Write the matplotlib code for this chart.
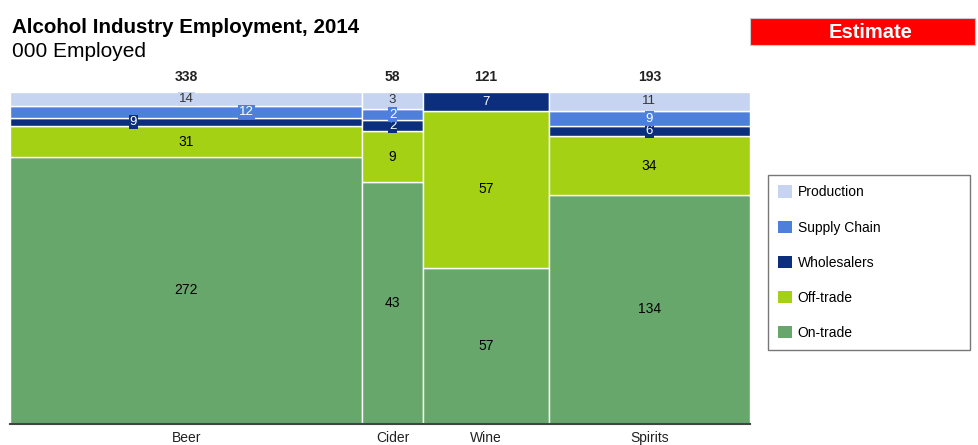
import matplotlib.pyplot as plt
from matplotlib.patches import Rectangle, Patch

plt.rcParams['font.family'] = ['Liberation Sans', 'DejaVu Sans']

# Data (000 employed)
categories = ['Beer', 'Cider', 'Wine', 'Spirits']
totals = [338, 58, 121, 193]
series = ['On-trade', 'Off-trade', 'Wholesalers', 'Supply Chain', 'Production']
on_trade = [272, 43, 57, 134]
off_trade = [31, 9, 57, 34]
wholesalers = [9, 2, 7, 6]
supply_chain = [12, 2, 0, 9]
production = [14, 3, 0, 11]

values = [on_trade, off_trade, wholesalers, supply_chain, production]
colors = ['#67a76b', '#a4d113', '#0b2f7c', '#4d7fdb', '#c7d4f1']
text_colors = ['black', 'black', 'white', 'white', '#333333']
boxed = [False, False, True, True, True]
# horizontal label position within the Beer column (fraction of width)
beer_pos = [0.5, 0.5, 0.35, 0.67, 0.5]

fig = plt.figure(figsize=(9.79, 4.45), dpi=100)
ax = fig.add_axes([10 / 979, 21 / 445, 740 / 979, 332 / 445])

grand = sum(totals)
x0 = 0
for i, cat in enumerate(categories):
    w = totals[i] / grand
    col_sum = sum(v[i] for v in values)
    y0 = 0
    for s in range(len(series)):
        h = values[s][i] / col_sum
        if h > 0:
            ax.add_patch(Rectangle((x0, y0), w, h, facecolor=colors[s],
                                   edgecolor='white', linewidth=1))
            fx = beer_pos[s] if i == 0 else 0.5
            bbox = None
            fs = 10
            if boxed[s]:
                fs = 9.5
                bbox = dict(boxstyle='square,pad=0.08', facecolor=colors[s],
                            edgecolor='none')
            ax.text(x0 + w * fx, y0 + h / 2, str(values[s][i]), ha='center',
                    va='center', fontsize=fs, color=text_colors[s], bbox=bbox)
        y0 += h
    ax.text(x0 + w / 2, 1.025, str(totals[i]), ha='center', va='bottom',
            fontsize=10, fontweight='bold', color='#222222')
    ax.text(x0 + w / 2, -0.022, cat, ha='center', va='top', fontsize=10,
            color='#222222')
    x0 += w

ax.set_xlim(0, 1)
ax.set_ylim(0, 1)
ax.set_xticks([])
ax.set_yticks([])
for side in ['top', 'left', 'right']:
    ax.spines[side].set_visible(False)
ax.spines['bottom'].set_color('#444444')
ax.spines['bottom'].set_linewidth(1.5)

# Legend
handles = [Patch(facecolor=colors[s], label=series[s]) for s in range(4, -1, -1)]
leg = fig.legend(handles=handles, loc='upper left', mode='expand',
                 bbox_to_anchor=(768 / 979, 1 - 175 / 445 - 0.01, 202 / 979, 0.01),
                 fontsize=10, frameon=True, fancybox=False, edgecolor='#555555',
                 handlelength=1.0, handleheight=1.0, handletextpad=0.4,
                 labelspacing=1.52, borderpad=0.75, borderaxespad=0)
leg.get_frame().set_linewidth(1)

# Titles
fig.text(12 / 979, 1 - 33 / 445, 'Alcohol Industry Employment, 2014',
         fontsize=14.8, fontweight='bold', va='baseline')
fig.text(12 / 979, 1 - 57 / 445, '000 Employed', fontsize=15, va='baseline')

# Estimate badge
fig.patches.append(Rectangle((750 / 979, 1 - 45 / 445), 225 / 979, 27 / 445,
                             transform=fig.transFigure, facecolor='#ff0000',
                             edgecolor='#cccccc', linewidth=0.8))
fig.text(871 / 979, 1 - 32 / 445, 'Estimate', ha='center', va='center',
         fontsize=14.5, fontweight='bold', color='white')

fig.savefig('out.png', dpi=100)
